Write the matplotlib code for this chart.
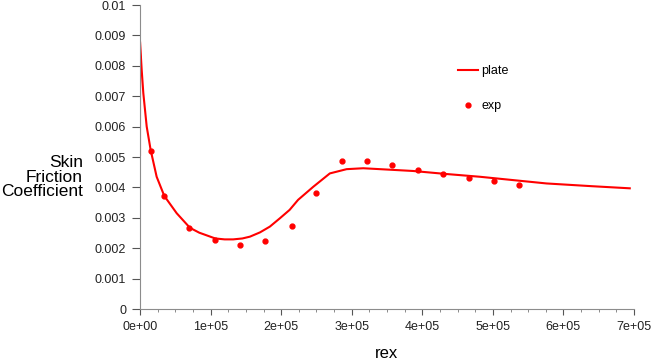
import matplotlib.pyplot as plt
from matplotlib.ticker import MultipleLocator, FuncFormatter

plt.rcParams['font.family'] = ['Liberation Sans', 'DejaVu Sans']

# laminar/transitional plate solution
plate_x = [0, 0, 2400, 4700, 9500, 15100, 23600, 34400, 52000, 70800, 84000,
           106700, 120000, 132000, 145000, 155800, 170000, 184000, 198000,
           212000, 224000, 245500, 269000, 292800, 316300, 340000, 387000,
           434400, 481600, 576000, 640000, 694000]
plate_y = [0.00507, 0.0088, 0.00786, 0.00710, 0.00600, 0.00523, 0.00435, 0.00372,
           0.00315, 0.00267, 0.00251, 0.00232, 0.00229, 0.00229, 0.00232, 0.00238,
           0.00252, 0.00271, 0.00298, 0.00326, 0.00359, 0.00402, 0.00446, 0.00460,
           0.00463, 0.00460, 0.00454, 0.00444, 0.00435, 0.00413, 0.00404, 0.00397]

# experimental points
exp_x = [16000, 34400, 69800, 106700, 142000, 177500, 214800, 249800, 286600,
         322000, 357400, 394200, 429600, 466400, 501800, 537200]
exp_y = [0.00520, 0.00371, 0.00266, 0.00227, 0.00209, 0.00224, 0.00272, 0.00380,
         0.00486, 0.00486, 0.00473, 0.00456, 0.00443, 0.00430, 0.00421, 0.00407]

fig = plt.figure(figsize=(6.59, 3.61), dpi=100)
ax = fig.add_axes([140 / 659, 1 - 309 / 361, 494 / 659, 304 / 361])

ax.plot(plate_x, plate_y, color='red', lw=1.5, label='plate')
ax.plot(exp_x, exp_y, 'o', color='red', ms=3.5, lw=0, label='exp')

ax.set_xlim(0, 7e5)
ax.set_ylim(0, 0.01)
ax.xaxis.set_major_locator(MultipleLocator(1e5))
ax.xaxis.set_minor_locator(MultipleLocator(2.5e4))
ax.yaxis.set_major_locator(MultipleLocator(0.001))
ax.xaxis.set_major_formatter(FuncFormatter(lambda v, p: f"{int(round(v / 1e5))}e+05" if v else "0e+00"))
ax.yaxis.set_major_formatter(FuncFormatter(lambda v, p: f"{v:.3f}".rstrip('0').rstrip('.') if v else "0"))

for s in ['top', 'right']:
    ax.spines[s].set_visible(False)
for s in ['left', 'bottom']:
    ax.spines[s].set_color('#8c8c8c')

ax.tick_params(axis='y', length=6, color='#555555', labelsize=9, pad=4, labelcolor='#222222')
ax.tick_params(axis='x', which='major', length=4, color='#555555', labelsize=9, pad=5, labelcolor='#222222')
ax.tick_params(axis='x', which='minor', length=2, color='#777777')

ax.set_xlabel('rex', fontsize=12, labelpad=9)
fig.text(83 / 659, 1 - 177 / 361, 'Skin\nFriction\nCoefficient', ha='right', va='center',
         multialignment='right', fontsize=12.5, linespacing=0.95)

ax.legend(loc='upper left', bbox_to_anchor=(0.62, 0.84), frameon=False, fontsize=9,
          handlelength=1.6, handletextpad=0.3, labelspacing=1.85, markerscale=1.0)

fig.savefig('out.png', dpi=100)
